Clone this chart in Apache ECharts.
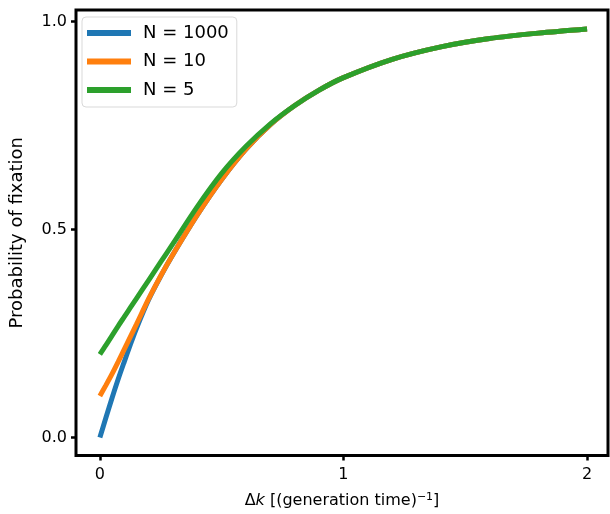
<!DOCTYPE html>
<html><head><meta charset="utf-8">
<script src="https://cdn.jsdelivr.net/npm/echarts@6/dist/echarts.min.js"></script>
<style>html,body{margin:0;padding:0;background:#fff}#c{width:610px;height:514px}</style>
</head><body><div id="c"></div>
<script>
const xValues = [0, 0.025, 0.05, 0.075, 0.1, 0.125, 0.15, 0.2, 0.25, 0.3, 0.4, 0.5, 0.6, 0.7, 0.8, 0.9, 1.0, 1.2, 1.4, 1.6, 1.8, 2.0];
const n1000 = [0.00, 0.048, 0.095, 0.14, 0.182, 0.223, 0.262, 0.331, 0.388, 0.44, 0.535, 0.62, 0.693, 0.752, 0.798, 0.835, 0.865, 0.909, 0.939, 0.959, 0.972, 0.982];
const n10   = [0.10, 0.126, 0.153, 0.182, 0.212, 0.242, 0.272, 0.333, 0.389, 0.44, 0.535, 0.62, 0.693, 0.752, 0.798, 0.835, 0.865, 0.909, 0.939, 0.959, 0.972, 0.982];
const n5    = [0.20, 0.222, 0.245, 0.268, 0.29, 0.312, 0.334, 0.378, 0.422, 0.466, 0.555, 0.635, 0.700, 0.754, 0.798, 0.835, 0.865, 0.909, 0.939, 0.959, 0.972, 0.982];
const seriesNames = ['N = 1000', 'N = 10', 'N = 5'];
const xTicks = [0, 1, 2];
const yTicks = [0, 0.5, 1.0];
const colors = ['#1f77b4', '#ff7f0e', '#2ca02c'];

const chart = echarts.init(document.getElementById('c'), null, {renderer: 'canvas'});
const font = 'DejaVu Sans';
const mk = (name, ys, i) => ({
  name, type: 'line', showSymbol: false, smooth: 0.3,
  data: xValues.map((x, k) => [x, ys[k]]),
  lineStyle: {width: 5, color: colors[i], cap: 'butt'},
  itemStyle: {color: colors[i]},
  z: 2 + i, animation: false
});
chart.setOption({
  animation: false,
  grid: {left: 73, right: 2, top: 10, bottom: 58, show: true, borderColor: '#000', borderWidth: 3, backgroundColor: '#fff'},
  legend: {
    orient: 'vertical', left: 82, top: 17, padding: [7, 8, 8, 5],
    itemWidth: 44, itemHeight: 6, itemGap: 10.5, icon: 'rect',
    backgroundColor: '#fff', borderColor: '#d9d9d9', borderWidth: 1, borderRadius: 4,
    textStyle: {fontFamily: font, fontSize: 18, color: '#000', padding: [0, 0, 0, 7]},
    data: seriesNames
  },
  xAxis: {
    type: 'value', min: -0.098, max: 2.086,
    axisLine: {show: false, onZero: false},
    axisTick: {show: true, length: 5, lineStyle: {color: '#000', width: 2.5}, customValues: xTicks},
    axisLabel: {customValues: xTicks, fontFamily: font, fontSize: 16, color: '#000', margin: 11, formatter: v => String(Math.round(v))},
    splitLine: {show: false},
    name: 'Δ{i|k} [(generation time){s|−1}]', nameLocation: 'middle', nameGap: 36,
    nameTextStyle: {fontFamily: font, fontSize: 16, color: '#000',
      rich: {i: {fontFamily: font, fontStyle: 'italic', fontSize: 16, color: '#000'},
             s: {fontFamily: font, fontSize: 11, color: '#000', verticalAlign: 'top', padding: [0, 0, 8, 0]}}}
  },
  yAxis: {
    type: 'value', min: -0.0432, max: 1.0276,
    axisLine: {show: false, onZero: false},
    axisTick: {show: true, length: 5, lineStyle: {color: '#000', width: 2.5}, customValues: yTicks},
    axisLabel: {customValues: yTicks, fontFamily: font, fontSize: 16, color: '#000', margin: 9, formatter: v => v.toFixed(1)},
    splitLine: {show: false},
    name: 'Probability of fixation', nameLocation: 'middle', nameGap: 50,
    nameTextStyle: {fontFamily: font, fontSize: 18, color: '#000'}
  },
  series: [mk(seriesNames[0], n1000, 0), mk(seriesNames[1], n10, 1), mk(seriesNames[2], n5, 2)]
});
</script></body></html>
